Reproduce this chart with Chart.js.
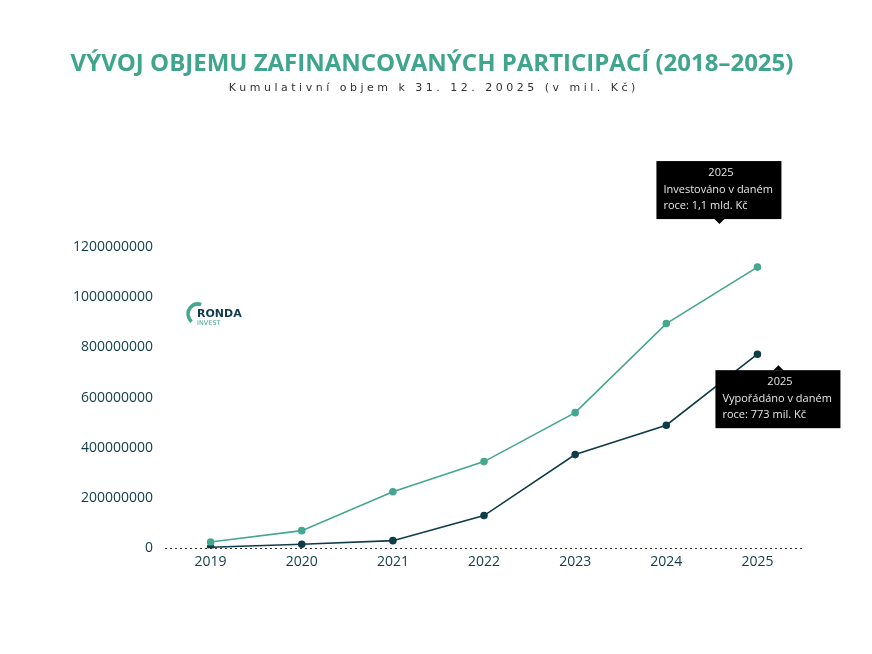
<!DOCTYPE html>
<html lang="cs">
<head>
<meta charset="utf-8">
<title>Vývoj objemu zafinancovaných participací</title>
<script src="https://cdn.jsdelivr.net/npm/chart.js@4/dist/chart.umd.min.js"></script>
<style>
  html, body { margin: 0; padding: 0; background: #fff; }
  #wrap { width: 872px; height: 654px; }
</style>
</head>
<body>
<div id="wrap"><canvas id="graf"></canvas></div>
<script>
// data
const roky = ['2019', '2020', '2021', '2022', '2023', '2024', '2025'];
const investovano = [25000000, 70000000, 225000000, 345000000, 540000000, 895000000, 1120000000];
const vyporadano = [4000000, 16000000, 30000000, 130000000, 373000000, 490000000, 773000000];
const popiskyInvestovano = ['Investováno v daném', 'roce: 1,1 mld. Kč'];
const popiskyVyporadano = ['Vypořádáno v daném', 'roce: 773 mil. Kč'];

const svetla = '#45a78f';
const tmava = '#0f3c48';

// vlastní "tooltipy" u posledního bodu obou řad
const stitky = {
  id: 'stitky',
  afterDatasetsDraw(chart) {
    const ctx = chart.ctx;
    const posledni = roky.length - 1;

    function box(bod, radky, dx, dy, nahore) {
      const w = 125, h = 58;
      const x = bod.x + dx, y = bod.y + dy;
      const cx = x + 63;
      ctx.save();
      ctx.fillStyle = '#000';
      ctx.fillRect(x, y, w, h);
      ctx.beginPath();
      if (nahore) {
        ctx.moveTo(cx - 5, y); ctx.lineTo(cx, y - 5); ctx.lineTo(cx + 5, y);
      } else {
        ctx.moveTo(cx - 5, y + h); ctx.lineTo(cx, y + h + 5); ctx.lineTo(cx + 5, y + h);
      }
      ctx.fill();
      ctx.fillStyle = '#e6e6e6';
      ctx.font = '11px "Open Sans", sans-serif';
      ctx.textBaseline = 'middle';
      ctx.textAlign = 'center';
      ctx.fillText(roky[posledni], x + w / 2 + 2, y + 12);
      ctx.textAlign = 'left';
      ctx.fillText(radky[0], x + 7, y + 29);
      ctx.fillText(radky[1], x + 7, y + 45);
      ctx.restore();
    }

    const b1 = chart.getDatasetMeta(0).data[posledni];
    const b2 = chart.getDatasetMeta(1).data[posledni];
    box(b1, popiskyInvestovano, -101, -106, false);
    box(b2, popiskyVyporadano, -42, 16, true);
  }
};

// logo v levém horním rohu plochy grafu
const logo = {
  id: 'logo',
  afterDraw(chart) {
    const ctx = chart.ctx;
    const x = chart.chartArea.left + 21, y = chart.chartArea.top + 56;
    ctx.save();
    ctx.strokeStyle = svetla;
    ctx.lineWidth = 3.5;
    ctx.beginPath();
    ctx.arc(x + 12, y + 11, 10, Math.PI * 0.72, Math.PI * 1.6);
    ctx.stroke();
    ctx.fillStyle = tmava;
    ctx.font = 'bold 11px "DejaVu Sans", sans-serif';
    ctx.textBaseline = 'middle';
    ctx.fillText('RONDA', x + 11, y + 11);
    ctx.fillStyle = svetla;
    ctx.font = '6.5px "DejaVu Sans", sans-serif';
    ctx.fillText('INVEST', x + 11, y + 20);
    ctx.restore();
  }
};

new Chart(document.getElementById('graf'), {
  type: 'line',
  data: {
    labels: roky,
    datasets: [
      {
        label: 'Investováno',
        data: investovano,
        borderColor: svetla,
        backgroundColor: svetla,
        borderWidth: 1.6,
        pointRadius: 3,
        tension: 0
      },
      {
        label: 'Vypořádáno',
        data: vyporadano,
        borderColor: tmava,
        backgroundColor: tmava,
        borderWidth: 1.6,
        pointRadius: 3,
        tension: 0
      }
    ]
  },
  options: {
    responsive: true,
    maintainAspectRatio: false,
    animation: false,
    layout: { padding: { left: 61, right: 69, top: 0, bottom: 79 } },
    plugins: {
      legend: { display: false },
      tooltip: { enabled: false },
      title: {
        display: true,
        text: 'VÝVOJ OBJEMU ZAFINANCOVANÝCH PARTICIPACÍ (2018–2025)',
        color: '#3fa58d',
        font: { family: '"Open Sans", sans-serif', size: 24, weight: 'bold' },
        padding: { top: 50, bottom: 3 }
      },
      subtitle: {
        display: true,
        text: 'K u m u l a t i v n í   o b j e m   k   3 1 .   1 2 .   2 0 0 2 5   ( v   m i l .   K č )',
        color: '#333',
        font: { family: '"DejaVu Sans", sans-serif', size: 11 },
        padding: { top: 0, bottom: 152 }
      }
    },
    scales: {
      x: {
        offset: true,
        grid: { display: false, drawTicks: false },
        border: { display: false },
        ticks: {
          color: tmava,
          font: { family: '"Open Sans", sans-serif', size: 14 },
          padding: 5
        }
      },
      y: {
        min: 0,
        max: 1200000000,
        grid: {
          drawTicks: false,
          color: c => (c.tick && c.tick.value === 0 ? '#333' : 'rgba(0,0,0,0)')
        },
        border: { display: false, dash: [2, 3] },
        ticks: {
          stepSize: 200000000,
          color: tmava,
          font: { family: '"Open Sans", sans-serif', size: 14 },
          padding: 12,
          callback: v => String(v)
        }
      }
    }
  },
  plugins: [stitky, logo]
});
</script>
</body>
</html>
